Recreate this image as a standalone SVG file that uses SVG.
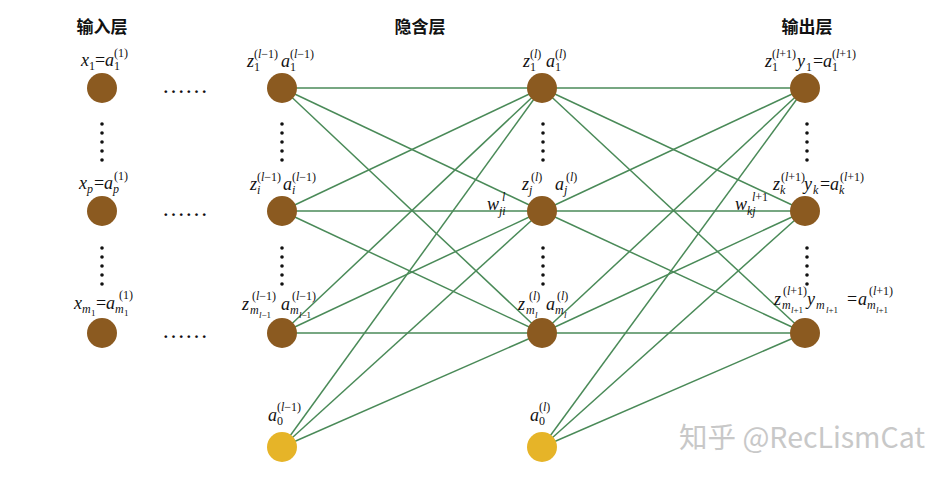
<svg xmlns="http://www.w3.org/2000/svg" width="952" height="478" viewBox="0 0 952 478">
<style>
.h{font-family:"Noto Sans CJK SC",sans-serif;font-size:17px;font-weight:bold;fill:#111;text-anchor:middle}
.t{font-family:"Liberation Serif",serif;font-size:18px;fill:#111}
.m{font-style:italic}
.s{font-size:12px;font-style:normal}
.si{font-size:12px;font-style:italic}
.ss{font-size:9px;font-style:italic}
.ssr{font-size:9px;font-style:normal}
.nd{fill:#8B5A20}
.b{fill:#E6B428}
.e line{stroke:#4A8A58;stroke-width:1.5}
.d{fill:#111}
.wm{font-family:"Noto Sans CJK SC",sans-serif;font-size:28.5px;fill:#c8c8c8}
</style>
<rect width="952" height="478" fill="#fff"/>
<g id="headers">
<text class="h" x="102" y="33">输入层</text>
<text class="h" x="420" y="33">隐含层</text>
<text class="h" x="807" y="33">输出层</text>
</g>
<g id="connectors" class="e">
<line x1="282" y1="88" x2="542" y2="88"/><line x1="282" y1="88" x2="542" y2="211"/><line x1="282" y1="88" x2="542" y2="333"/>
<line x1="282" y1="211" x2="542" y2="88"/><line x1="282" y1="211" x2="542" y2="211"/><line x1="282" y1="211" x2="542" y2="333"/>
<line x1="282" y1="333" x2="542" y2="88"/><line x1="282" y1="333" x2="542" y2="211"/><line x1="282" y1="333" x2="542" y2="333"/>
<line x1="282" y1="447" x2="542" y2="88"/><line x1="282" y1="447" x2="542" y2="211"/><line x1="282" y1="447" x2="542" y2="333"/>
<line x1="542" y1="88" x2="805" y2="88"/><line x1="542" y1="88" x2="805" y2="211"/><line x1="542" y1="88" x2="805" y2="333"/>
<line x1="542" y1="211" x2="805" y2="88"/><line x1="542" y1="211" x2="805" y2="211"/><line x1="542" y1="211" x2="805" y2="333"/>
<line x1="542" y1="333" x2="805" y2="88"/><line x1="542" y1="333" x2="805" y2="211"/><line x1="542" y1="333" x2="805" y2="333"/>
<line x1="542" y1="447" x2="805" y2="88"/><line x1="542" y1="447" x2="805" y2="211"/><line x1="542" y1="447" x2="805" y2="333"/>
</g>
<g id="dots" class="d">
<text class="t" x="185" y="93" text-anchor="middle" style="font-size:23px">……</text>
<text class="t" x="185" y="216" text-anchor="middle" style="font-size:23px">……</text>
<text class="t" x="185" y="338" text-anchor="middle" style="font-size:23px">……</text>
<circle cx="102" cy="124" r="1.8"/><circle cx="102" cy="133" r="1.8"/><circle cx="102" cy="142" r="1.8"/><circle cx="102" cy="151" r="1.8"/><circle cx="102" cy="160" r="1.8"/>
<circle cx="102" cy="248" r="1.8"/><circle cx="102" cy="257" r="1.8"/><circle cx="102" cy="266" r="1.8"/><circle cx="102" cy="275" r="1.8"/><circle cx="102" cy="284" r="1.8"/>
<circle cx="282" cy="124" r="1.8"/><circle cx="282" cy="133" r="1.8"/><circle cx="282" cy="142" r="1.8"/><circle cx="282" cy="151" r="1.8"/><circle cx="282" cy="160" r="1.8"/>
<circle cx="282" cy="248" r="1.8"/><circle cx="282" cy="257" r="1.8"/><circle cx="282" cy="266" r="1.8"/><circle cx="282" cy="275" r="1.8"/><circle cx="282" cy="284" r="1.8"/>
<circle cx="543" cy="124" r="1.8"/><circle cx="543" cy="133" r="1.8"/><circle cx="543" cy="142" r="1.8"/><circle cx="543" cy="151" r="1.8"/><circle cx="543" cy="160" r="1.8"/>
<circle cx="543" cy="248" r="1.8"/><circle cx="543" cy="257" r="1.8"/><circle cx="543" cy="266" r="1.8"/><circle cx="543" cy="275" r="1.8"/><circle cx="543" cy="284" r="1.8"/>
<circle cx="807" cy="124" r="1.8"/><circle cx="807" cy="133" r="1.8"/><circle cx="807" cy="142" r="1.8"/><circle cx="807" cy="151" r="1.8"/><circle cx="807" cy="160" r="1.8"/>
<circle cx="807" cy="248" r="1.8"/><circle cx="807" cy="257" r="1.8"/><circle cx="807" cy="266" r="1.8"/><circle cx="807" cy="275" r="1.8"/><circle cx="807" cy="284" r="1.8"/>
</g>
<g id="in1"><circle class="nd" cx="102" cy="88" r="15"/>
<text class="t"><tspan class="m" x="81" y="66">x</tspan><tspan class="s" x="89" y="70">1</tspan><tspan x="95" y="66">=</tspan><tspan class="m" x="105" y="66">a</tspan><tspan class="s" x="114" y="70">1</tspan><tspan class="s" x="114" y="57">(1)</tspan></text></g>
<g id="inp"><circle class="nd" cx="102" cy="211" r="15"/>
<text class="t"><tspan class="m" x="79" y="189">x</tspan><tspan class="si" x="87" y="193">p</tspan><tspan x="94" y="189">=</tspan><tspan class="m" x="104" y="189">a</tspan><tspan class="si" x="113" y="193">p</tspan><tspan class="s" x="114" y="180">(1)</tspan></text></g>
<g id="inm"><circle class="nd" cx="102" cy="333" r="15"/>
<text class="t"><tspan class="m" x="74" y="309">x</tspan><tspan class="si" x="82" y="313">m</tspan><tspan class="ssr" x="91" y="316">1</tspan><tspan x="96" y="309">=</tspan><tspan class="m" x="106" y="309">a</tspan><tspan class="si" x="115" y="313">m</tspan><tspan class="ssr" x="124" y="316">1</tspan><tspan class="s" x="119" y="299">(1)</tspan></text></g>
<g id="h1"><circle class="nd" cx="282" cy="88" r="15"/>
<text class="t"><tspan class="m" x="247" y="67">z</tspan><tspan class="s" x="254" y="71">1</tspan><tspan class="s" x="254" y="58">(<tspan class="si">l</tspan>−1)</tspan><tspan class="m" x="281" y="67">a</tspan><tspan class="s" x="290" y="71">1</tspan><tspan class="s" x="290" y="58">(<tspan class="si">l</tspan>−1)</tspan></text></g>
<g id="hi"><circle class="nd" cx="282" cy="211" r="15"/>
<text class="t"><tspan class="m" x="250" y="190">z</tspan><tspan class="si" x="257" y="194">i</tspan><tspan class="s" x="257" y="181">(<tspan class="si">l</tspan>−1)</tspan><tspan class="m" x="283" y="190">a</tspan><tspan class="si" x="292" y="194">i</tspan><tspan class="s" x="292" y="181">(<tspan class="si">l</tspan>−1)</tspan></text></g>
<g id="hm"><circle class="nd" cx="282" cy="333" r="15"/>
<text class="t"><tspan class="m" x="242" y="310">z</tspan><tspan class="si" x="250" y="314">m</tspan><tspan class="ss" x="259" y="318">l</tspan><tspan class="ssr">−1</tspan><tspan class="s" x="252" y="300">(<tspan class="si">l</tspan>−1)</tspan><tspan class="m" x="281" y="310">a</tspan><tspan class="si" x="290" y="314">m</tspan><tspan class="ss" x="299" y="318">l</tspan><tspan class="ssr">−1</tspan><tspan class="s" x="292" y="300">(<tspan class="si">l</tspan>−1)</tspan></text></g>
<g id="hb"><circle class="b" cx="282" cy="447" r="15"/>
<text class="t"><tspan class="m" x="268" y="421">a</tspan><tspan class="s" x="277" y="425">0</tspan><tspan class="s" x="277" y="411">(<tspan class="si">l</tspan>−1)</tspan></text></g>
<g id="l1"><circle class="nd" cx="542" cy="88" r="15"/>
<text class="t"><tspan class="m" x="523" y="67">z</tspan><tspan class="s" x="530" y="71">1</tspan><tspan class="s" x="530" y="58">(<tspan class="si">l</tspan>)</tspan><tspan class="m" x="546" y="67">a</tspan><tspan class="s" x="555" y="71">1</tspan><tspan class="s" x="555" y="58">(<tspan class="si">l</tspan>)</tspan></text></g>
<g id="lj"><circle class="nd" cx="542" cy="211" r="15"/>
<text class="t"><tspan class="m" x="522" y="190">z</tspan><tspan class="si" x="529" y="194">j</tspan><tspan class="s" x="531" y="181">(<tspan class="si">l</tspan>)</tspan><tspan class="m" x="555" y="190">a</tspan><tspan class="si" x="564" y="194">j</tspan><tspan class="s" x="566" y="181">(<tspan class="si">l</tspan>)</tspan></text>
<text class="t"><tspan class="m" x="487" y="210">w</tspan><tspan class="si" x="499" y="215">ji</tspan></text>
<text class="t"><tspan class="si" x="502" y="201">l</tspan></text></g>
<g id="lm"><circle class="nd" cx="542" cy="333" r="15"/>
<text class="t"><tspan class="m" x="518" y="310">z</tspan><tspan class="si" x="526" y="314">m</tspan><tspan class="ss" x="535" y="318">l</tspan><tspan class="s" x="529" y="300">(<tspan class="si">l</tspan>)</tspan><tspan class="m" x="546" y="310">a</tspan><tspan class="si" x="555" y="314">m</tspan><tspan class="ss" x="564" y="318">l</tspan><tspan class="s" x="557" y="300">(<tspan class="si">l</tspan>)</tspan></text></g>
<g id="lb"><circle class="b" cx="542" cy="447" r="15"/>
<text class="t"><tspan class="m" x="530" y="421">a</tspan><tspan class="s" x="539" y="425">0</tspan><tspan class="s" x="539" y="411">(<tspan class="si">l</tspan>)</tspan></text></g>
<g id="o1"><circle class="nd" cx="805" cy="88" r="15"/>
<text class="t"><tspan class="m" x="765" y="67">z</tspan><tspan class="s" x="772" y="71">1</tspan><tspan class="s" x="772" y="58">(<tspan class="si">l</tspan>+1)</tspan><tspan class="m" x="797" y="67">y</tspan><tspan class="s" x="806" y="71">1</tspan><tspan x="813" y="67">=</tspan><tspan class="m" x="823" y="67">a</tspan><tspan class="s" x="832" y="71">1</tspan><tspan class="s" x="832" y="58">(<tspan class="si">l</tspan>+1)</tspan></text></g>
<g id="ok"><circle class="nd" cx="805" cy="211" r="15"/>
<text class="t"><tspan class="m" x="773" y="190">z</tspan><tspan class="si" x="780" y="194">k</tspan><tspan class="s" x="781" y="181">(<tspan class="si">l</tspan>+1)</tspan><tspan class="m" x="804" y="190">y</tspan><tspan class="si" x="813" y="194">k</tspan><tspan x="820" y="190">=</tspan><tspan class="m" x="830" y="190">a</tspan><tspan class="si" x="839" y="194">k</tspan><tspan class="s" x="840" y="181">(<tspan class="si">l</tspan>+1)</tspan></text>
<text class="t"><tspan class="m" x="735" y="210">w</tspan><tspan class="si" x="747" y="215">kj</tspan></text>
<text class="t"><tspan class="si" x="752" y="201">l</tspan><tspan class="s">+1</tspan></text></g>
<g id="om"><circle class="nd" cx="805" cy="333" r="15"/>
<text class="t"><tspan class="m" x="774" y="305">z</tspan><tspan class="si" x="782" y="309">m</tspan><tspan class="ss" x="791" y="313">l</tspan><tspan class="ssr">+1</tspan><tspan class="s" x="783" y="295">(<tspan class="si">l</tspan>+1)</tspan><tspan class="m" x="807" y="305">y</tspan><tspan class="si" x="816" y="309">m</tspan><tspan class="ss" x="826" y="313">l</tspan><tspan class="ssr">+1</tspan><tspan x="847" y="305">=</tspan><tspan class="m" x="858" y="305">a</tspan><tspan class="si" x="867" y="309">m</tspan><tspan class="ss" x="876" y="313">l</tspan><tspan class="ssr">+1</tspan><tspan class="s" x="869" y="295">(<tspan class="si">l</tspan>+1)</tspan></text></g>
<text class="wm" x="679" y="448">知乎 @RecLismCat</text>
</svg>
